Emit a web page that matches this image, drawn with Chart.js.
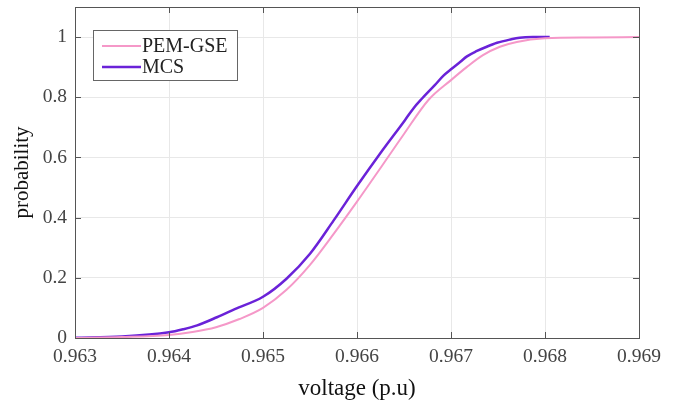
<!DOCTYPE html>
<html>
<head>
<meta charset="utf-8">
<script src="https://cdn.jsdelivr.net/npm/chart.js@4"></script>
<style>
    html, body { margin: 0; padding: 0; background: #fff; }
    #wrap { width: 677px; height: 407px; }
</style>
</head>
<body>
<div id="wrap"><canvas id="cdf"></canvas></div>
<script>
// PEM-GSE curve (voltage, probability)
const pemVoltage = [0.963, 0.9635, 0.964, 0.96425, 0.9645, 0.96475, 0.965, 0.96525, 0.9655, 0.96575,
    0.966, 0.96625, 0.9665, 0.96676, 0.967, 0.96717, 0.96734, 0.96752, 0.9677, 0.968, 0.9685, 0.969];
const pemProb = [0.000, 0.003, 0.010, 0.020, 0.036, 0.063, 0.100, 0.160, 0.243, 0.345,
    0.453, 0.565, 0.678, 0.791, 0.857, 0.901, 0.940, 0.968, 0.984, 0.996, 0.999, 1.000];

// MCS empirical curve
const mcsVoltage = [0.963, 0.9635, 0.964, 0.96415, 0.9643, 0.96451, 0.9647, 0.965, 0.96525, 0.9655,
    0.96575, 0.966, 0.96625, 0.96651, 0.9666, 0.96669, 0.96683, 0.96692, 0.967, 0.9671,
    0.96717, 0.96727, 0.96738, 0.96749, 0.96763, 0.96773, 0.96787, 0.96805];
const mcsProb = [0.001, 0.005, 0.019, 0.029, 0.042, 0.069, 0.096, 0.137, 0.197, 0.280,
    0.390, 0.505, 0.615, 0.724, 0.763, 0.795, 0.841, 0.872, 0.893, 0.918,
    0.936, 0.953, 0.968, 0.981, 0.992, 0.998, 1.000, 1.000];

const xTicks = [0.963, 0.964, 0.965, 0.966, 0.967, 0.968, 0.969];
const yTicks = [0, 0.2, 0.4, 0.6, 0.8, 1];

const seriesNames = ['PEM-GSE', 'MCS'];
const seriesColors = ['#f598c8', '#6a22d8'];

const serif = '"Liberation Serif", "DejaVu Serif", serif';

function toPoints(xs, ys) {
    return xs.map((x, i) => ({x: x, y: ys[i]}));
}

// matlab-like box, inner ticks and framed legend
const boxPlugin = {
    id: 'boxPlugin',
    afterDraw(chart) {
        const {ctx, chartArea: a, scales} = chart;
        ctx.save();
        ctx.strokeStyle = '#555';
        ctx.lineWidth = 1;
        ctx.strokeRect(a.left + 0.5, a.top + 0.5, a.right - a.left, a.bottom - a.top);
        ctx.beginPath();
        xTicks.forEach(v => {
            const px = Math.round(scales.x.getPixelForValue(v)) + 0.5;
            ctx.moveTo(px, a.bottom); ctx.lineTo(px, a.bottom - 6);
            ctx.moveTo(px, a.top); ctx.lineTo(px, a.top + 6);
        });
        yTicks.forEach(v => {
            const py = Math.round(scales.y.getPixelForValue(v)) + 0.5;
            ctx.moveTo(a.left, py); ctx.lineTo(a.left + 6, py);
            ctx.moveTo(a.right, py); ctx.lineTo(a.right - 6, py);
        });
        ctx.stroke();

        // legend
        const lx = a.left + 18, ly = a.top + 23, lw = 144, lh = 50;
        ctx.fillStyle = '#fff';
        ctx.fillRect(lx, ly, lw, lh);
        ctx.strokeStyle = '#666';
        ctx.strokeRect(lx + 0.5, ly + 0.5, lw, lh);
        ctx.font = '20px ' + serif;
        ctx.textBaseline = 'middle';
        chart.data.datasets.forEach((ds, i) => {
            const y = ly + 16 + i * 21;
            ctx.strokeStyle = ds.borderColor;
            ctx.lineWidth = ds.borderWidth;
            ctx.beginPath();
            ctx.moveTo(lx + 9, y); ctx.lineTo(lx + 48, y);
            ctx.stroke();
            ctx.fillStyle = '#222';
            ctx.fillText(ds.label, lx + 49, y + 1);
        });
        ctx.restore();
    }
};

const ctx = document.getElementById('cdf').getContext('2d');
new Chart(ctx, {
    type: 'line',
    data: {
        datasets: [
            {
                label: seriesNames[0],
                data: toPoints(pemVoltage, pemProb),
                borderColor: seriesColors[0],
                borderWidth: 2,
                pointRadius: 0,
                cubicInterpolationMode: 'monotone',
                fill: false
            },
            {
                label: seriesNames[1],
                data: toPoints(mcsVoltage, mcsProb),
                borderColor: seriesColors[1],
                borderWidth: 2.5,
                pointRadius: 0,
                cubicInterpolationMode: 'monotone',
                fill: false
            }
        ]
    },
    options: {
        responsive: true,
        maintainAspectRatio: false,
        animation: false,
        layout: {padding: {top: 7, right: 38, left: 0, bottom: 0}},
        plugins: {
            legend: {display: false},
            tooltip: {enabled: false}
        },
        scales: {
            x: {
                type: 'linear',
                min: 0.963,
                max: 0.969,
                afterBuildTicks: scale => { scale.ticks = xTicks.map(v => ({value: v})); },
                afterFit: scale => { scale.height = 69; },
                grid: {color: '#e8e8e8', drawTicks: false},
                border: {display: false},
                ticks: {
                    padding: 7,
                    color: '#444',
                    font: {family: serif, size: 19.5},
                    callback: v => v.toFixed(3)
                },
                title: {
                    display: true,
                    text: 'voltage (p.u)',
                    color: '#111',
                    padding: {top: 10},
                    font: {family: serif, size: 23}
                }
            },
            y: {
                min: 0,
                max: 1.1,
                afterBuildTicks: scale => { scale.ticks = yTicks.map(v => ({value: v})); },
                afterFit: scale => {
                    scale.width = 75;
                    scale.paddingTop = 0;
                    scale.paddingBottom = 0;
                },
                grid: {color: '#e8e8e8', drawTicks: false},
                border: {display: false},
                ticks: {
                    padding: 8,
                    color: '#444',
                    font: {family: serif, size: 19.5},
                    callback: v => String(Math.round(v * 10) / 10)
                },
                title: {
                    display: true,
                    text: 'probability',
                    color: '#111',
                    padding: {top: 10, bottom: 0},
                    font: {family: serif, size: 21}
                }
            }
        }
    },
    plugins: [boxPlugin]
});
</script>
</body>
</html>
